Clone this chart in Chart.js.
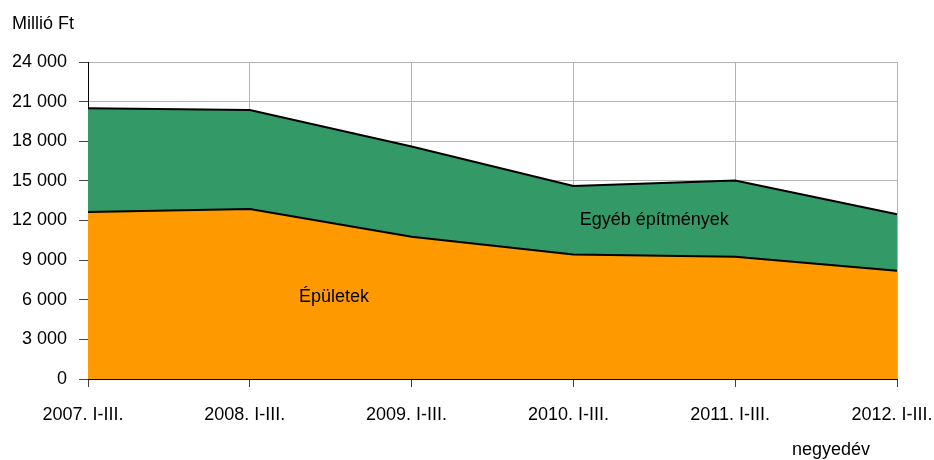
<!DOCTYPE html>
<html>
<head>
<meta charset="utf-8">
<script src="https://cdn.jsdelivr.net/npm/chart.js@4"></script>
<style>
  html, body { margin: 0; padding: 0; background: #fff; }
  #wrap { width: 934px; height: 460px; }
</style>
</head>
<body>
<div id="wrap"><canvas id="chartEpitmeny"></canvas></div>
<script>
// Beruházások: épületek és egyéb építmények, millió Ft
const kategoriak = ['2007. I-III.', '2008. I-III.', '2009. I-III.', '2010. I-III.', '2011. I-III.', '2012. I-III.'];
const epuletek = [12650, 12870, 10770, 9430, 9250, 8190];
const egyebEpitmenyek = [7840, 7500, 6830, 5190, 5780, 4280];
const yMax = 24000;
const yStep = 3000;

const FONT = '"Liberation Sans", Arial, sans-serif';
const ezres = v => String(v).replace(/\B(?=(\d{3})+(?!\d))/g, ' ');

// ── feliratok a rajzon ──
const feliratok = {
    id: 'feliratok',
    afterDraw(chart) {
        const { ctx, scales: { x, y } } = chart;
        ctx.save();
        ctx.font = '18px ' + FONT;
        ctx.fillStyle = '#000';
        ctx.textBaseline = 'middle';
        ctx.textAlign = 'left';
        ctx.fillText('Millió Ft', 12, 24);
        ctx.textAlign = 'center';
        ctx.fillText('negyedév', 831, 450);
        ctx.fillText('Épületek', x.getPixelForValue(1.52), y.getPixelForValue(6190));
        ctx.fillText('Egyéb építmények', x.getPixelForValue(3.5), y.getPixelForValue(12040));
        ctx.restore();
    }
};

new Chart(document.getElementById('chartEpitmeny'), {
    type: 'line',
    data: {
        labels: kategoriak,
        datasets: [
            {
                label: 'Épületek',
                data: epuletek,
                backgroundColor: '#ff9900',
                borderColor: '#000',
                borderWidth: 2,
                fill: 'origin',
                pointRadius: 0,
                tension: 0,
            },
            {
                label: 'Egyéb építmények',
                data: egyebEpitmenyek,
                backgroundColor: '#339966',
                borderColor: '#000',
                borderWidth: 2,
                fill: '-1',
                pointRadius: 0,
                tension: 0,
            }
        ]
    },
    options: {
        responsive: true,
        maintainAspectRatio: false,
        animation: false,
        layout: { padding: { left: 0, top: 62, right: 37, bottom: 0 } },
        plugins: {
            legend: { display: false },
            tooltip: { enabled: false },
        },
        scales: {
            x: {
                z: 1,
                offset: false,
                grid: {
                    color: ctx => ctx.index === 0 ? '#000' : '#b4b4b4',
                    tickColor: '#444',
                    tickLength: 8,
                },
                border: { color: '#000', width: 1 },
                ticks: { color: '#000', font: { size: 18, family: FONT }, padding: 17, labelOffset: -5, maxRotation: 0, autoSkip: false },
                afterFit(scale) { scale.paddingLeft = 0; scale.paddingRight = 0; scale.height = 81; },
            },
            y: {
                stacked: true,
                min: 0,
                max: yMax,
                grid: { color: '#b4b4b4', tickColor: '#444', tickLength: 9 },
                border: { color: '#000', width: 1 },
                ticks: { stepSize: yStep, color: '#000', font: { size: 18, family: FONT }, padding: 12, callback: v => ezres(v) },
                afterFit(scale) { scale.width = 88; scale.paddingTop = 0; scale.paddingBottom = 0; },
            }
        }
    },
    plugins: [feliratok]
});
</script>
</body>
</html>
